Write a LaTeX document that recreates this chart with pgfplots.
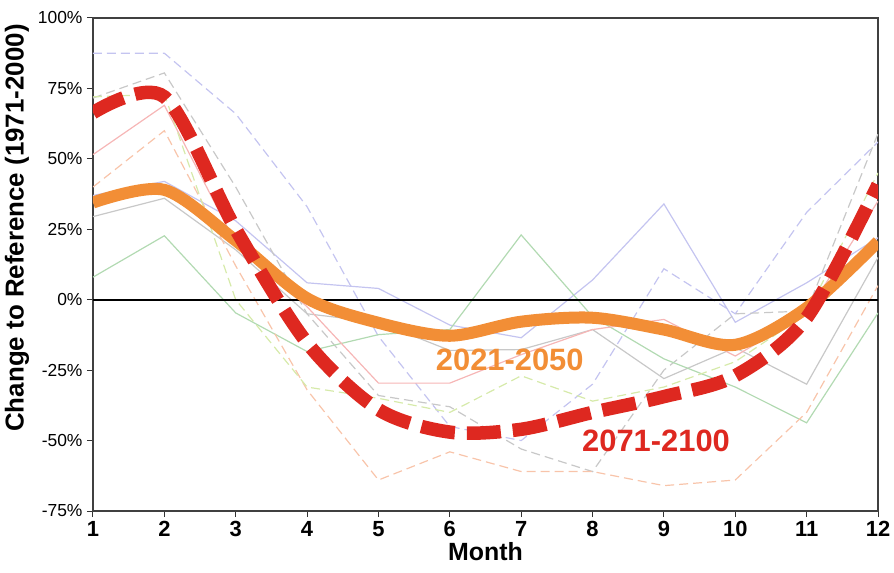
\documentclass[border=0pt]{standalone}
\usepackage{pgfplots}
\pgfplotsset{compat=1.18}
\usepackage{fontspec}
\setmainfont{Liberation Sans}
\definecolor{bgblue}{RGB}{196,196,240}
\definecolor{bggrey}{RGB}{200,200,200}
\definecolor{bggreen}{RGB}{178,218,178}
\definecolor{bgpink}{RGB}{246,182,182}
\definecolor{bgsalmon}{RGB}{248,196,170}
\definecolor{bgyellow}{RGB}{214,234,170}
\definecolor{mainorange}{RGB}{242,142,54}
\definecolor{mainred}{RGB}{222,40,32}
\begin{document}
\begin{tikzpicture}
\begin{axis}[
  scale only axis, width=785bp, height=493bp,
  xmin=1, xmax=12, ymin=-75, ymax=100,
  xtick={1,2,3,4,5,6,7,8,9,10,11,12},
  xticklabels={1,2,3,4,5,6,7,8,9,10,11,12},
  ytick={-75,-50,-25,0,25,50,75,100},
  yticklabels={{-75\%},{-50\%},{-25\%},{0\%},{25\%},{50\%},{75\%},{100\%}},
  tick align=outside, tick pos=left, major tick length=6bp,
  tick style={line width=1bp, black!80},
  xticklabel style={font=\fontsize{22}{22}\selectfont\bfseries, yshift=-1bp},
  yticklabel style={font=\fontsize{17.5}{17.5}\selectfont, xshift=-1bp},
  xlabel={Month},
  xlabel style={font=\fontsize{25}{25}\selectfont\bfseries, yshift=1bp},
  ylabel={Change to Reference (1971-2000)},
  ylabel style={font=\fontsize{26}{26}\selectfont\bfseries, at={(ticklabel cs:0.574)}, yshift=2bp},
  axis line style={line width=1.3bp, black!75},
  clip=true,
]
% background model runs (thin)
\addplot[bgblue, line width=1.2bp] coordinates {(1,37)(2,42)(3,28)(4,6)(5,4)(6,-9)(7,-13.5)(8,7)(9,34)(10,-8)(11,6)(12,22)};
\addplot[bgblue, line width=1.2bp, dash pattern=on 9bp off 5bp] coordinates {(1,87.5)(2,87.5)(3,66)(4,33)(5,-13)(6,-45)(7,-50)(8,-30)(9,11)(10,-5)(11,31)(12,56)};
\addplot[bggrey, line width=1.2bp] coordinates {(1,29.5)(2,36)(3,17.7)(4,-5)(5,-8)(6,-18)(7,-17.7)(8,-10.6)(9,-28)(10,-17)(11,-30)(12,15)};
\addplot[bggrey, line width=1.2bp, dash pattern=on 9bp off 5bp] coordinates {(1,71.6)(2,80.5)(3,40)(4,-5)(5,-34)(6,-38)(7,-53)(8,-61)(9,-25)(10,-5)(11,-4)(12,59)};
\addplot[bggreen, line width=1.2bp] coordinates {(1,8)(2,22.7)(3,-4.7)(4,-18.4)(5,-12.4)(6,-10.6)(7,23)(8,-6)(9,-21)(10,-31)(11,-43.7)(12,-4.7)};
\addplot[bgpink, line width=1.2bp] coordinates {(1,51.5)(2,69)(3,20)(4,-2.5)(5,-29.6)(6,-29.6)(7,-19.5)(8,-10.6)(9,-7)(10,-20)(11,-5)(12,35)};
\addplot[bgsalmon, line width=1.2bp, dash pattern=on 9bp off 5bp] coordinates {(1,40)(2,60)(3,12)(4,-32)(5,-64)(6,-54)(7,-61)(8,-61)(9,-66)(10,-64)(11,-40)(12,5)};
\addplot[bgyellow, line width=1.2bp, dash pattern=on 9bp off 5bp] coordinates {(1,72)(2,73)(3,0)(4,-31)(5,-35)(6,-40)(7,-27)(8,-36)(9,-31)(10,-22)(11,-5)(12,45)};
% zero line
\addplot[black, line width=1.8bp] coordinates {(1,0)(12,0)};
% ensemble means
\addplot[mainorange, line width=12bp, smooth, tension=0.5] coordinates {(1,34.5)(2,39)(3,21)(4,0.5)(5,-8.2)(6,-12.8)(7,-7.8)(8,-6.4)(9,-10.6)(10,-16)(11,-2.9)(12,20.6)};
\addplot[mainred, line width=13.5bp, smooth, tension=0.5, dash pattern=on 34bp off 12bp] coordinates {(1,66.4)(2,72)(3,25)(4,-15.3)(5,-39)(6,-47)(7,-46)(8,-40)(9,-34.4)(10,-27)(11,-6.4)(12,40.8)};
\node[text=mainorange, font=\fontsize{31}{31}\selectfont\bfseries] at (axis cs:6.84,-21.3) {2021-2050};
\node[text=mainred, font=\fontsize{31}{31}\selectfont\bfseries] at (axis cs:8.89,-50) {2071-2100};
\end{axis}
\pgfresetboundingbox
\path ([xshift=-93bp,yshift=-62bp]current axis.south west) rectangle ([xshift=16bp,yshift=18bp]current axis.north east);
\end{tikzpicture}
\end{document}
